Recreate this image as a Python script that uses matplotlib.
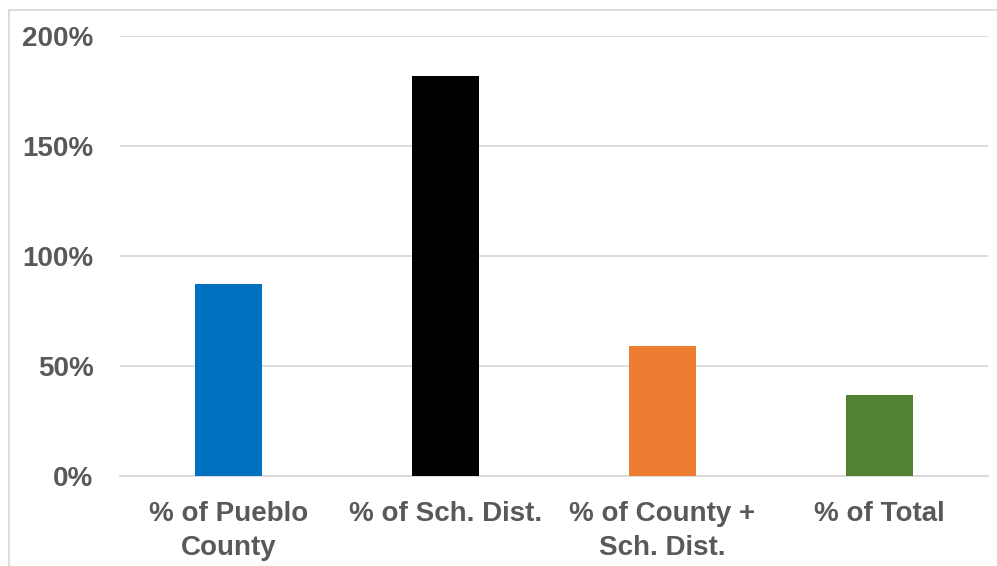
import matplotlib
matplotlib.use("Agg")
import matplotlib.pyplot as plt
from matplotlib.lines import Line2D
from matplotlib.ticker import FuncFormatter

categories = ["% of Pueblo\nCounty", "% of Sch. Dist.", "% of County +\nSch. Dist.", "% of Total"]
values = [0.875, 1.82, 0.59, 0.37]
colors = ["#0070C0", "#000000", "#ED7D31", "#548235"]
yticks = [0, 0.5, 1.0, 1.5, 2.0]

plt.rcParams["font.family"] = ["Liberation Sans", "DejaVu Sans"]
plt.rcParams["font.weight"] = "bold"

W, H = 997, 566
fig = plt.figure(figsize=(W / 100, H / 100), dpi=100)
ax = fig.add_axes([120 / W, 1 - 476 / H, (988 - 120) / W, (476 - 36) / H])

x = list(range(len(categories)))
ax.bar(x, values, width=0.313, color=colors, zorder=3)

ax.set_xlim(-0.5, len(categories) - 0.5)
ax.set_ylim(0, 2.0)
ax.set_yticks(yticks)
ax.yaxis.set_major_formatter(FuncFormatter(lambda v, p: f"{v * 100:.0f}%"))
ax.set_xticks(x)
ax.set_xticklabels(categories, linespacing=1.4)

text_color = "#595959"
ax.tick_params(axis="y", length=0, pad=19, labelsize=20, labelcolor=text_color)
ax.tick_params(axis="x", length=0, pad=18, labelsize=20, labelcolor=text_color)
for lbl in ax.get_xticklabels() + ax.get_yticklabels():
    lbl.set_fontweight("bold")

ax.grid(axis="y", color="#D9D9D9", linewidth=1.3, zorder=0)
for side in ["top", "right", "left"]:
    ax.spines[side].set_visible(False)
ax.spines["bottom"].set_color("#D9D9D9")
ax.spines["bottom"].set_linewidth(1.3)

# chart frame (top and left edges)
fig.add_artist(Line2D([9 / W, 1.0], [1 - 10 / H, 1 - 10 / H], color="#D9D9D9", linewidth=1.3))
fig.add_artist(Line2D([9 / W, 9 / W], [0, 1 - 10 / H], color="#D9D9D9", linewidth=1.3))

fig.savefig("out.png", dpi=100)
